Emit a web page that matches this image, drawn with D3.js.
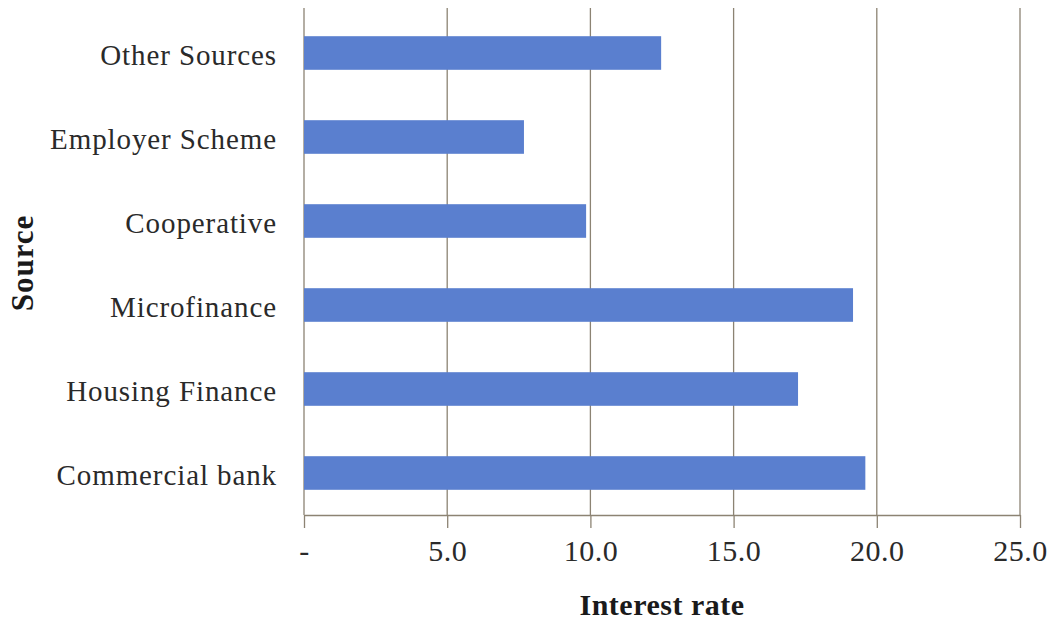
<!DOCTYPE html>
<html>
<head>
<meta charset="utf-8">
<script src="https://cdn.jsdelivr.net/npm/d3@7"></script>
<style>
  html, body { margin: 0; padding: 0; background: #ffffff; }
  svg { display: block; }
</style>
</head>
<body>
<svg id="chart" width="1059" height="623"></svg>
<script>
const categories = ["Other Sources", "Employer Scheme", "Cooperative", "Microfinance", "Housing Finance", "Commercial bank"];
const interestRates = [12.47, 7.68, 9.85, 19.17, 17.25, 19.6];
const tickValues = [0, 5, 10, 15, 20, 25];
const tickLabels = ["-", "5.0", "10.0", "15.0", "20.0", "25.0"];
const xTitle = "Interest rate";
const yTitle = "Source";

const svg = d3.select("#chart");
const margin = { left: 304, right: 39, top: 11, bottom: 108 };
const W = 1059, H = 623;
const plotW = W - margin.left - margin.right;
const plotH = H - margin.top - margin.bottom;

const x = d3.scaleLinear().domain([0, 25]).range([0, plotW]);
const y = d3.scaleBand().domain(categories).range([0, plotH]).paddingInner(0.6).paddingOuter(0.3);

const g = svg.append("g").attr("transform", `translate(${margin.left},${margin.top})`);

const gridColor = "#8c8373";
const serif = "'Liberation Serif', 'DejaVu Serif', serif";

// vertical gridlines
g.append("g").selectAll("line")
  .data(tickValues)
  .join("line")
  .attr("x1", d => x(d)).attr("x2", d => x(d))
  .attr("y1", -3).attr("y2", plotH)
  .attr("stroke", gridColor).attr("stroke-width", 1.3);

// bars
g.append("g").selectAll("rect")
  .data(categories)
  .join("rect")
  .attr("x", x(0))
  .attr("y", d => y(d))
  .attr("height", y.bandwidth())
  .attr("width", (d, i) => x(interestRates[i]) - x(0))
  .attr("fill", "#5a7fcf");

// x axis
const xAxis = d3.axisBottom(x)
  .tickValues(tickValues)
  .tickFormat((d, i) => tickLabels[i])
  .tickSize(13)
  .tickSizeOuter(0)
  .tickPadding(12);
const xa = g.append("g").attr("transform", `translate(0,${plotH})`).call(xAxis);
xa.select(".domain").attr("stroke", gridColor).attr("stroke-width", 1.5);
xa.selectAll(".tick line").attr("stroke", gridColor).attr("stroke-width", 1.3);
xa.selectAll(".tick text")
  .attr("fill", "#2a2a2a")
  .style("font-family", serif)
  .style("font-size", "30px")
  .style("letter-spacing", "0.5px");

// y axis labels
const ya = d3.axisLeft(y).tickSize(0).tickPadding(27);
const yg = g.append("g").call(ya);
yg.select(".domain").remove();
yg.selectAll(".tick text")
  .attr("fill", "#2a2a2a")
  .attr("dy", "0.42em")
  .style("font-family", serif)
  .style("font-size", "29px")
  .style("letter-spacing", "0.9px");

// axis titles
svg.append("text")
  .attr("x", margin.left + plotW / 2)
  .attr("y", 615)
  .attr("text-anchor", "middle")
  .style("font-family", serif)
  .style("font-size", "30px")
  .style("font-weight", "bold")
  .style("letter-spacing", "0.5px")
  .attr("fill", "#1a1a1a")
  .text(xTitle);

svg.append("text")
  .attr("transform", `translate(33,${margin.top + plotH / 2}) rotate(-90)`)
  .attr("text-anchor", "middle")
  .style("font-family", serif)
  .style("font-size", "31px")
  .style("font-weight", "bold")
  .style("letter-spacing", "1px")
  .attr("fill", "#1a1a1a")
  .text(yTitle);
</script>
</body>
</html>
